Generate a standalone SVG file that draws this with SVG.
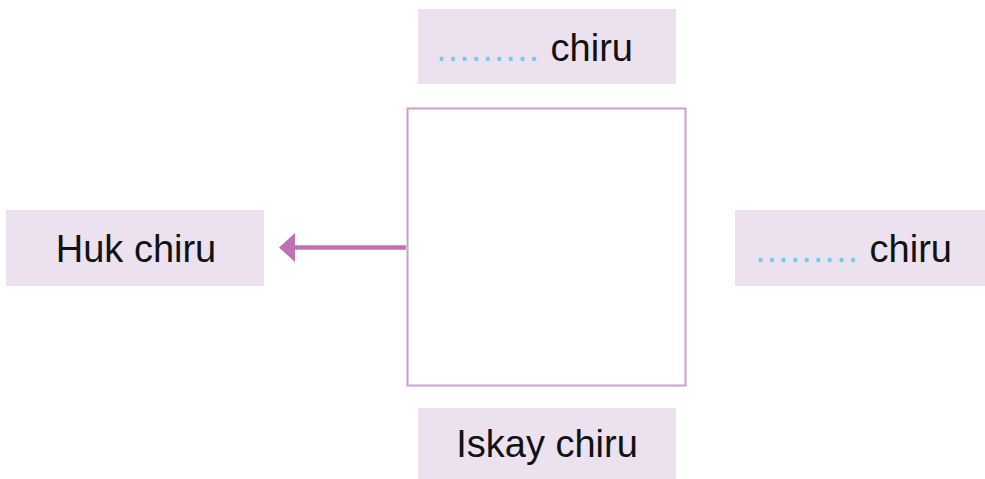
<svg xmlns="http://www.w3.org/2000/svg" width="985" height="479" viewBox="0 0 985 479">
<style>
.box{fill:#ece1ef}
.t{font-family:"Liberation Sans",Arial,sans-serif;font-size:38px;fill:#111}
.dots{fill:#6fcdf3;letter-spacing:1px}
</style>
<rect width="985" height="479" fill="#ffffff"/>
<g id="center">
<rect x="407.5" y="108.5" width="278" height="277" fill="#ffffff" stroke="#c9a0cc" stroke-width="2"/>
</g>
<g id="top">
<rect class="box" x="418" y="9" width="258" height="75"/>
<text class="t" x="436" y="61"><tspan class="dots">.........</tspan> chiru</text>
</g>
<g id="left">
<rect class="box" x="6" y="210" width="258" height="76"/>
<text class="t" x="136" y="262" text-anchor="middle">Huk chiru</text>
</g>
<g id="right">
<rect class="box" x="735" y="210" width="250" height="76"/>
<text class="t" x="755" y="262"><tspan class="dots">.........</tspan> chiru</text>
</g>
<g id="bottom">
<rect class="box" x="418" y="408" width="258" height="71"/>
<text class="t" x="547" y="457" text-anchor="middle">Iskay chiru</text>
</g>
<g id="connectors">
<line x1="406" y1="247.5" x2="294" y2="247.5" stroke="#bf72b2" stroke-width="4.5"/>
<path d="M279,247.5 L295,233 L295,262 Z" fill="#bf72b2"/>
</g>
</svg>
